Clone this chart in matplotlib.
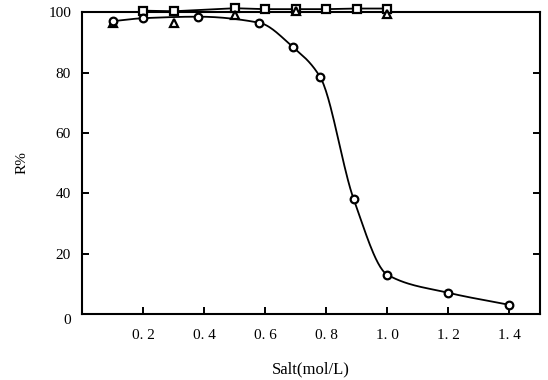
import numpy as np
import matplotlib
matplotlib.use("Agg")
import matplotlib.pyplot as plt

plt.rcParams['font.family'] = ['Liberation Serif', 'DejaVu Serif']

# Data
x_circle = [0.1, 0.2, 0.38, 0.58, 0.69, 0.78, 0.89, 1.0, 1.2, 1.4]
y_circle = [97.0, 98.0, 98.5, 96.5, 88.5, 78.5, 38.0, 13.0, 7.0, 3.0]

x_square = [0.2, 0.3, 0.5, 0.6, 0.7, 0.8, 0.9, 1.0]
y_square = [100.5, 100.3, 101.3, 101.0, 101.0, 101.0, 101.2, 101.2]

x_tri = [0.1, 0.3, 0.5, 0.7, 1.0]
y_tri = [96.5, 96.5, 99.0, 100.3, 99.5]

xticks = [0.2, 0.4, 0.6, 0.8, 1.0, 1.2, 1.4]
xticklabels = ["0. 2", "0. 4", "0. 6", "0. 8", "1. 0", "1. 2", "1. 4"]
yticks = [0, 20, 40, 60, 80, 100]
yticklabels = ["0", "20", "40", "60", "80", "100"]


def smooth(x, y, n=30):
    # monotone cubic (PCHIP) for drawing the curve between data points
    x = np.asarray(x, float); y = np.asarray(y, float)
    h = np.diff(x); d = np.diff(y) / h
    m = np.zeros_like(y)
    for k in range(1, len(x) - 1):
        if d[k - 1] * d[k] > 0:
            w1 = 2 * h[k] + h[k - 1]; w2 = h[k] + 2 * h[k - 1]
            m[k] = (w1 + w2) / (w1 / d[k - 1] + w2 / d[k])
    m[0] = d[0]; m[-1] = d[-1]
    xs, ys = [], []
    for k in range(len(x) - 1):
        t = np.linspace(0, 1, n)
        h00 = 2*t**3 - 3*t**2 + 1; h10 = t**3 - 2*t**2 + t
        h01 = -2*t**3 + 3*t**2; h11 = t**3 - t**2
        xs.append(x[k] + t * h[k])
        ys.append(h00*y[k] + h10*h[k]*m[k] + h01*y[k+1] + h11*h[k]*m[k+1])
    return np.concatenate(xs), np.concatenate(ys)


fig = plt.figure(figsize=(5.48, 3.8), dpi=100)
ax = fig.add_axes([0.15, 0.174, 0.835, 0.794])

sx, sy = smooth(x_circle, y_circle)
ax.plot(sx, sy, color='black', lw=1.3, clip_on=False, zorder=2)
ax.plot(x_circle, y_circle, ls='none', marker='o', ms=5.5, mfc='white', mec='black', mew=1.6,
        clip_on=False, zorder=4)

ax.plot(x_square, y_square, color='black', lw=1.3, marker='s', ms=5.5, mfc='white', mec='black',
        mew=1.6, clip_on=False, zorder=3)
ax.plot(x_tri, y_tri, ls='none', marker='^', ms=5.5, mfc='white', mec='black', mew=1.6,
        clip_on=False, zorder=3)

ax.set_xlim(0, 1.5)
ax.set_ylim(0, 100)
ax.set_xticks(xticks)
ax.set_xticklabels(xticklabels)
ax.set_yticks(yticks)
ax.set_yticklabels(yticklabels)
for lab in ax.get_yticklabels():
    if lab.get_text() == "0":
        lab.set_va('top')

ax.tick_params(direction='in', length=5, width=1.4, labelsize=11, right=True)
ax.tick_params(axis='x', pad=11)
ax.tick_params(axis='y', pad=8)
for s in ax.spines.values():
    s.set_linewidth(1.5)

ax.set_xlabel("Salt(mol/L)", fontsize=12, labelpad=14)
ax.set_ylabel("R%", fontsize=11, labelpad=14)

fig.savefig("out.png", dpi=100)
